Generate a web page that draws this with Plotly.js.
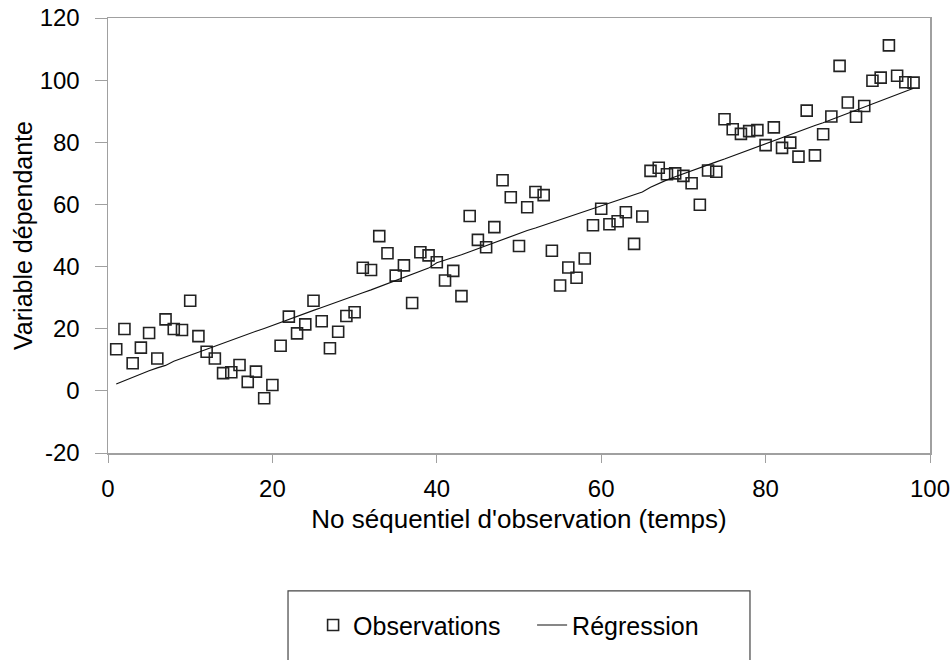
<!DOCTYPE html>
<html>
<head>
<meta charset="utf-8">
<script src="https://cdn.plot.ly/plotly-3.0.1.min.js"></script>
<style>html,body{margin:0;padding:0;background:#fff;}#chart{width:951px;height:660px;}</style>
</head>
<body>
<div id="chart"></div>
<script>
// Sequential observation number (time)
var obsX = [1,2,3,4,5,6,7,8,9,10,11,12,13,14,15,16,17,18,19,20,21,22,23,24,25,26,27,28,29,30,31,32,33,34,35,36,37,38,39,40,41,42,43,44,45,46,47,48,49,50,51,52,53,54,55,56,57,58,59,60,61,62,63,64,65,66,67,68,69,70,71,72,73,74,75,76,77,78,79,80,81,82,83,84,85,86,87,88,89,90,91,92,93,94,95,96,97,98];
// Observed dependent variable
var obsY = [13.4,19.9,8.9,13.9,18.6,10.4,23.0,19.9,19.6,29.0,17.6,12.6,10.4,5.7,6.0,8.3,2.9,6.2,-2.4,1.9,
            14.5,23.9,18.5,21.4,29.0,22.4,13.7,19.0,24.1,25.3,39.6,38.9,49.8,44.3,37.1,40.4,28.3,44.6,43.6,41.4,
            35.5,38.6,30.5,56.3,48.6,46.2,52.7,67.8,62.3,46.6,59.1,64.0,63.0,45.1,33.9,39.7,36.4,42.6,53.3,58.6,
            53.6,54.6,57.5,47.3,56.1,70.8,71.8,69.7,70.0,69.2,66.8,59.9,70.9,70.5,87.4,84.2,82.7,83.6,83.9,79.1,
            84.8,78.2,79.9,75.4,90.2,75.8,82.6,88.3,104.6,92.8,88.2,91.7,99.8,100.8,111.2,101.4,99.3,99.2];
// Fitted (regression) values
var fitY = [2.2,3.3,4.4,5.5,6.5,7.4,8.2,9.5,10.4,11.4,12.4,13.4,14.4,15.3,16.3,17.2,18.2,19.2,20.1,21.1,
            22.0,23.0,24.0,24.9,25.9,26.8,27.8,28.7,29.7,30.6,31.6,32.5,33.5,34.5,35.5,36.6,37.5,38.5,39.5,41.2,
            42.0,42.9,43.8,44.8,45.8,46.8,47.8,48.8,49.8,50.7,51.6,52.4,53.3,54.2,55.1,56.0,56.9,57.8,58.7,59.7,
            60.6,61.5,62.4,63.2,64.0,65.5,66.8,67.9,68.9,69.9,70.9,71.8,72.7,73.7,74.6,75.6,76.5,77.5,78.5,79.5,
            80.5,81.5,82.5,83.5,84.4,85.4,86.3,87.3,88.3,89.3,90.3,91.3,92.3,93.3,94.3,95.3,96.3,97.4];
var xTicks = [0,20,40,60,80,100];
var yTicks = [-20,0,20,40,60,80,100,120];
var seriesNames = ["Observations","Régression"];

var FONT = "Liberation Sans, Arial, sans-serif";
var axisGray = "#a0a0a0";

var traces = [
  {x: obsX, y: obsY, name: seriesNames[0], type: "scatter", mode: "markers",
   marker: {symbol: "square-open", size: 11, color: "#222", line: {width: 1.6, color: "#222"}}},
  {x: obsX, y: fitY, name: seriesNames[1], type: "scatter", mode: "lines",
   line: {color: "#111", width: 1.1}}
];

var layout = {
  width: 951, height: 660,
  margin: {l: 108, r: 21, t: 18, b: 207},
  paper_bgcolor: "#fff", plot_bgcolor: "#fff",
  font: {family: FONT, size: 24, color: "#000"},
  showlegend: true,
  xaxis: {
    range: [0, 100], tickvals: xTicks, ticktext: xTicks.map(String),
    showgrid: false, zeroline: false, showline: true, mirror: true,
    linecolor: axisGray, linewidth: 1.5,
    ticks: "outside", ticklen: 8, tickcolor: axisGray, tickwidth: 1,
    ticklabelstandoff: 6,
    tickfont: {family: FONT, size: 24, color: "#000"},
    title: {text: "No séquentiel d'observation (temps)", font: {family: FONT, size: 26, color: "#000"}, standoff: 8}
  },
  yaxis: {
    range: [-20, 120], tickvals: yTicks, ticktext: yTicks.map(String),
    showgrid: false, zeroline: false, showline: true, mirror: true,
    linecolor: axisGray, linewidth: 1.5,
    ticks: "outside", ticklen: 12, tickcolor: axisGray, tickwidth: 1,
    ticklabelstandoff: 10,
    tickfont: {family: FONT, size: 24, color: "#000"},
    title: {text: "Variable dépendante", font: {family: FONT, size: 25, color: "#000"}, standoff: 0}
  },
  legend: {
    orientation: "h", x: 0.2495, xanchor: "left", y: -0.343, yanchor: "top",
    entrywidth: 174, entrywidthmode: "pixels",
    font: {family: FONT, size: 25, color: "#000"},
    bgcolor: "rgba(0,0,0,0)", borderwidth: 0
  },
  shapes: [
    {type: "rect", xref: "paper", yref: "paper", x0: 0.219, x1: 0.781, y0: -0.317, y1: -0.49,
     line: {color: "#444", width: 1.2}, fillcolor: "rgba(0,0,0,0)", layer: "below"}
  ]
};

Plotly.newPlot("chart", traces, layout, {displayModeBar: false, staticPlot: true});
</script>
</body>
</html>
